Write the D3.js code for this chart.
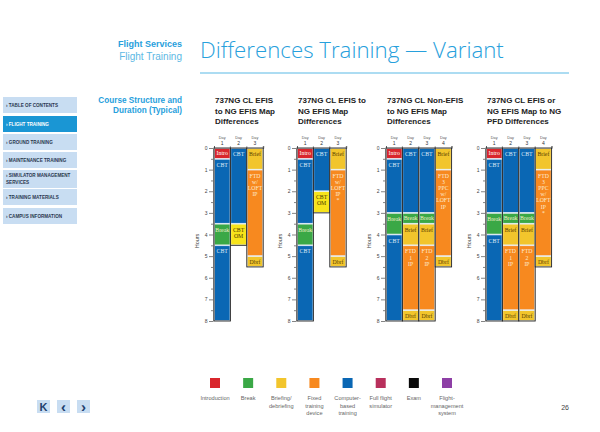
<!DOCTYPE html>
<html><head><meta charset="utf-8">
<script src="https://cdn.jsdelivr.net/npm/d3@7"></script>
<style>
html,body{margin:0;padding:0;background:#fff;}
svg{display:block;font-family:"Liberation Sans",Arial,sans-serif;}
</style></head>
<body><svg id="chart" width="600" height="432"></svg>
<script>
// ---------- DATA ----------
const hourTicks = [0,1,2,3,4,5,6,7,8];
const panelTitles = [
  ["737NG CL EFIS","to NG EFIS Map","Differences"],
  ["737NG CL EFIS to","NG EFIS Map","Differences"],
  ["737NG CL Non-EFIS","to NG EFIS Map","Differences"],
  ["737NG CL EFIS or","NG EFIS Map to NG","PFD Differences"]
];
// segments: [type, startHour, endHour, label]
const panel1Days = [
  [["intro",0,0.5,"Intro"],["cbt",0.5,3.5,"CBT"],["break",3.5,4.5,"Break"],["cbt",4.5,8,"CBT"]],
  [["cbt",0,3.5,"CBT"],["om",3.5,4.5,"CBT|OM"]],
  [["brief",0,1,"Brief"],["ftd",1,5,"FTD|w/|LOFT|IP"],["brief",5,5.5,"Dbrf"]]
];
const panel2Days = [
  [["intro",0,0.5,"Intro"],["cbt",0.5,3.5,"CBT"],["break",3.5,4.5,"Break"],["cbt",4.5,8,"CBT"]],
  [["cbt",0,2,"CBT"],["om",2,3,"CBT|OM"]],
  [["brief",0,1,"Brief"],["ftd",1,5,"FTD|w/|LOFT|IP|*"],["brief",5,5.5,"Dbrf"]]
];
const panel3Days = [
  [["intro",0,0.5,"Intro"],["cbt",0.5,3,"CBT"],["break",3,4,"Break"],["cbt",4,8,"CBT"]],
  [["cbt",0,3,"CBT"],["break",3,3.5,"Break"],["brief",3.5,4.5,"Brief"],["ftd",4.5,7.5,"FTD|1|IP"],["brief",7.5,8,"Dbrf"]],
  [["cbt",0,3,"CBT"],["break",3,3.5,"Break"],["brief",3.5,4.5,"Brief"],["ftd",4.5,7.5,"FTD|2|IP"],["brief",7.5,8,"Dbrf"]],
  [["brief",0,1,"Brief"],["ftd",1,5,"FTD|3|PPC|w/|LOFT|IP"],["brief",5,5.5,"Dbrf"]]
];
const panel4Days = [
  [["intro",0,0.5,"Intro"],["cbt",0.5,3,"CBT"],["break",3,4,"Break"],["cbt",4,8,"CBT"]],
  [["cbt",0,3,"CBT"],["break",3,3.5,"Break"],["brief",3.5,4.5,"Brief"],["ftd",4.5,7.5,"FTD|1|IP"],["brief",7.5,8,"Dbrf"]],
  [["cbt",0,3,"CBT"],["break",3,3.5,"Break"],["brief",3.5,4.5,"Brief"],["ftd",4.5,7.5,"FTD|2|IP"],["brief",7.5,8,"Dbrf"]],
  [["brief",0,1,"Brief"],["ftd",1,5,"FTD|3|PPC|w/|LOFT|IP|*"],["brief",5,5.5,"Dbrf"]]
];
const legendKeys = ["intro","break","brief","ftd","cbt","ffs","exam","fms"];
const legendLabels = [["Introduction"],["Break"],["Briefing/","debriefing"],["Fixed","training","device"],["Computer-","based","training"],["Full flight","simulator"],["Exam"],["Flight-","management","system"]];
const navItems = [["› TABLE OF CONTENTS"],["› FLIGHT TRAINING"],["› GROUND TRAINING"],["› MAINTENANCE TRAINING"],["› SIMULATOR MANAGEMENT","  SERVICES"],["› TRAINING MATERIALS"],["› CAMPUS INFORMATION"]];

// ---------- STYLE ----------
const colors = {intro:"#d9262c", break:"#3aa846", brief:"#f2c52c", om:"#f7e31a", ftd:"#f7891f", cbt:"#0a67b4", ffs:"#b8305c", exam:"#0a0a0a", fms:"#8e3fa6"};
const textColors = {intro:"#fff", break:"#f3f0c8", brief:"#5a3e00", om:"#4a3a00", ftd:"#fde9d0", cbt:"#dfeaf6"};
const blue = "#27a0dc";
const svg = d3.select("#chart");

// ---------- HEADER ----------
svg.append("text").attr("x",182).attr("y",47).attr("text-anchor","end")
  .attr("font-size",9).attr("font-weight","bold").attr("fill",blue).text("Flight Services");
svg.append("text").attr("x",182).attr("y",60).attr("text-anchor","end")
  .attr("font-size",10).attr("fill","#5cb8e4").text("Flight Training");
const title = svg.append("text").attr("x",200).attr("y",58)
  .attr("font-size",26).attr("fill",blue).attr("font-family","'Open Sans','Liberation Sans',sans-serif")
  .attr("font-weight",300).text("Differences Training \u2014 Variant");
const tl = title.node().getComputedTextLength();
title.attr("font-size", 26*304/tl);
svg.append("line").attr("x1",200).attr("x2",569).attr("y1",73).attr("y2",73)
  .attr("stroke","#5ab9e5").attr("stroke-width",1.2);

svg.append("text").attr("x",182).attr("y",103).attr("text-anchor","end")
  .attr("font-size",8.2).attr("font-weight","bold").attr("fill",blue).text("Course Structure and");
svg.append("text").attr("x",182).attr("y",113).attr("text-anchor","end")
  .attr("font-size",8.2).attr("font-weight","bold").attr("fill",blue).text("Duration (Typical)");

// ---------- NAV ----------
const navY = [97,116,134,152,170,189,208];
const navH = [16,16,16,16,18,16,16];
navItems.forEach((lines,i)=>{
  svg.append("rect").attr("x",3).attr("y",navY[i]).attr("width",74).attr("height",navH[i])
    .attr("fill", i===1 ? "#1a96d4" : "#c8ddf2");
  lines.forEach((t,j)=>{
    svg.append("text").attr("x",6).attr("y",navY[i] + (lines.length>1 ? 7 + j*7 : 10))
      .attr("font-size",4.6).attr("font-weight","bold")
      .attr("fill", i===1 ? "#fff" : "#2a3850").text(t);
  });
});

// ---------- PANELS ----------
const y = d3.scaleLinear().domain([0,8]).range([148,321]);
const panels = [panel1Days, panel2Days, panel3Days, panel4Days];
const panelLeft = [214, 297, 386, 486];
const colW = 16.4;

panels.forEach((days,p)=>{
  const left = panelLeft[p];
  const dayNames = days.map((d,i)=>String(i+1));
  const x = d3.scaleBand().domain(dayNames).range([left, left + colW*days.length]).padding(0);
  const g = svg.append("g");

  // title
  panelTitles[p].forEach((t,j)=>{
    g.append("text").attr("x",left+1).attr("y",103 + j*10.5)
      .attr("font-size",8).attr("font-weight","bold").attr("fill","#222").text(t);
  });

  // day header
  dayNames.forEach(dn=>{
    const cx = x(dn) + x.bandwidth()/2;
    g.append("text").attr("x",cx).attr("y",139).attr("text-anchor","middle")
      .attr("font-size",3.8).attr("fill","#555").text("Day");
    g.append("text").attr("x",cx).attr("y",144.5).attr("text-anchor","middle")
      .attr("font-size",5).attr("fill","#333").text(dn);
  });
  const topAxis = d3.axisTop(x).tickSize(2).tickFormat("");
  g.append("g").attr("transform",`translate(0,${y(0)})`).call(topAxis)
    .call(s=>s.select(".domain").attr("stroke","#333").attr("stroke-width",0.8))
    .call(s=>s.selectAll(".tick line").attr("stroke","#555").attr("stroke-width",0.5)
      .attr("transform",`translate(${x.bandwidth()/2},0)`));

  // left axis
  const yAxis = d3.axisLeft(y).tickValues(d3.range(0,8.01,0.5))
    .tickSize(3).tickSizeOuter(0)
    .tickFormat(d=> Number.isInteger(d) ? d : "");
  const ag = g.append("g").attr("transform",`translate(${left-1},0)`).call(yAxis);
  ag.select(".domain").attr("stroke","#666").attr("stroke-width",0.5);
  ag.selectAll(".tick line").attr("stroke","#333").attr("stroke-width",0.6)
    .attr("x2", d=> Number.isInteger(d) ? -4 : -2);
  ag.selectAll(".tick text").attr("font-size",5).attr("fill","#444").attr("x",-5.5)
    .attr("font-family","'Liberation Sans',Arial,sans-serif");

  g.append("text").attr("transform",`translate(${left-15},${y(4.3)}) rotate(-90)`)
    .attr("text-anchor","middle").attr("font-size",5.5).attr("fill","#444").text("Hours");

  // segments
  days.forEach((segs,di)=>{
    const dn = dayNames[di];
    const cx = x(dn) + x.bandwidth()/2;
    segs.forEach(s=>{
      const [type,a,b,label] = s;
      g.append("rect").attr("x",x(dn)+0.4).attr("y",y(a)+0.4)
        .attr("width",x.bandwidth()-0.8).attr("height",y(b)-y(a)-0.8)
        .attr("fill",colors[type]).attr("stroke","#e6eef6").attr("stroke-width",0.7);
      const lines = label.split("|");
      const h = y(b)-y(a);
      const first = y(a) + Math.min(h/2 + 2 - (lines.length-1)*3, 8);
      lines.forEach((t,j)=>{
        g.append("text").attr("x",cx).attr("y",first + j*6.2).attr("text-anchor","middle")
          .attr("font-family","'Liberation Serif','Times New Roman',serif")
          .attr("font-size",5.8).attr("fill",textColors[type]).text(t);
      });
    });
    const total = d3.max(segs, s=>s[2]);
    g.append("rect").attr("x",x(dn)).attr("y",y(0)).attr("width",x.bandwidth())
      .attr("height",y(total)-y(0)).attr("fill","none").attr("stroke","#222").attr("stroke-width",0.9);
  });
});

// ---------- LEGEND ----------
const lx = d3.scalePoint().domain(legendKeys).range([215,447]);
legendKeys.forEach((k,i)=>{
  svg.append("rect").attr("x",lx(k)-5).attr("y",378).attr("width",10).attr("height",10).attr("fill",colors[k]);
  legendLabels[i].forEach((t,j)=>{
    svg.append("text").attr("x",lx(k)).attr("y",400 + j*7.5).attr("text-anchor","middle")
      .attr("font-size",5.6).attr("fill","#666").text(t);
  });
});

// ---------- FOOTER ----------
const btnX = [37,57,77];
const btnGlyph = ["K","\u2039","\u203A"];
btnX.forEach((bx,i)=>{
  svg.append("rect").attr("x",bx).attr("y",400).attr("width",13).attr("height",13).attr("fill","#c8ddf2");
  svg.append("text").attr("x",bx+6.5).attr("y",i===0?410.5:412).attr("text-anchor","middle")
    .attr("font-size",i===0?11:15).attr("font-weight","bold").attr("fill","#1d3f6e").text(btnGlyph[i]);
});
svg.append("text").attr("x",569).attr("y",410).attr("text-anchor","end")
  .attr("font-size",7).attr("fill","#444").text("26");
</script>
</body></html>
